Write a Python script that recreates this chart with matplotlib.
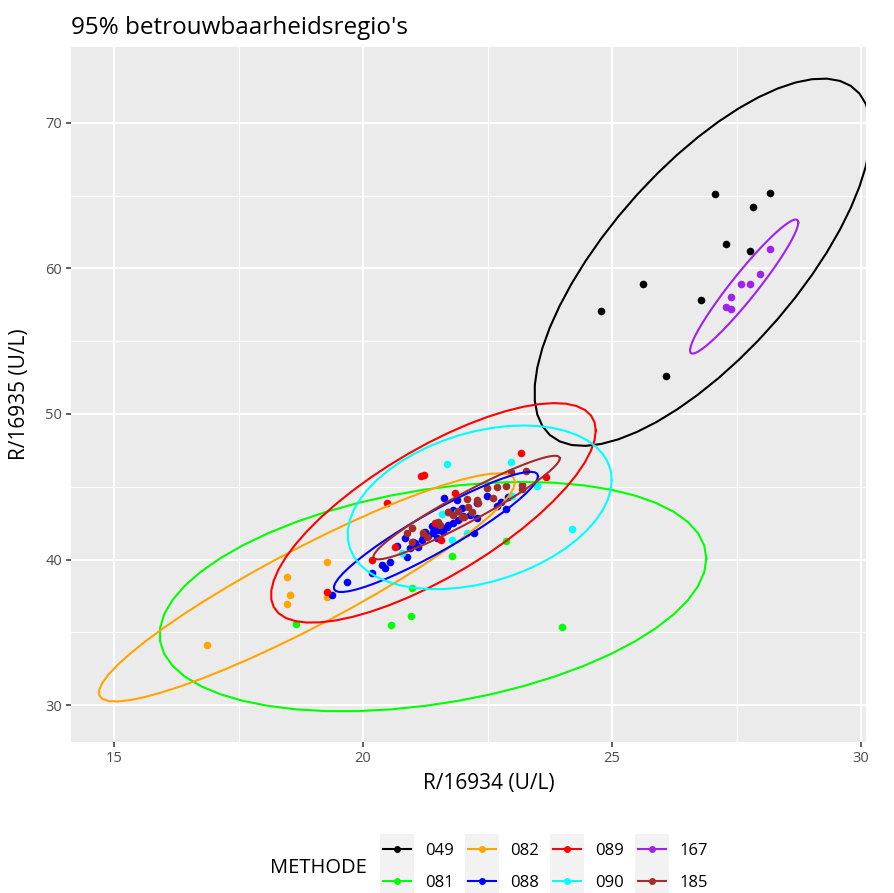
import numpy as np
import matplotlib
matplotlib.use("Agg")
import matplotlib.pyplot as plt
from matplotlib.lines import Line2D
from matplotlib.patches import Rectangle

plt.rcParams['font.family'] = ['Open Sans', 'DejaVu Sans']

methods = ["049", "081", "082", "088", "089", "090", "167", "185"]
colors = ["#000000", "#00FF00", "#FFA500", "#0000FF", "#FF0000", "#00FFFF", "#A020F0", "#A52A2A"]

x049 = [27.07, 28.17, 27.83, 27.28, 27.78, 25.62, 24.77, 26.78, 26.08]
y049 = [65.14, 65.17, 64.23, 61.70, 61.20, 58.93, 57.10, 57.81, 52.59]

x081 = [18.66, 20.57, 20.97, 20.98, 21.79, 22.87, 23.99]
y081 = [35.60, 35.47, 36.12, 38.06, 40.26, 41.27, 35.38]

x082 = [19.28, 18.48, 18.53, 18.48, 19.28, 16.87, 21.20]
y082 = [39.85, 38.78, 37.56, 36.94, 37.44, 34.12, 41.90]

x088 = [19.38, 19.68, 20.19, 20.38, 20.44, 20.54, 20.68, 20.84, 20.88, 20.94, 21.04,
        21.11, 21.18, 21.25, 21.38, 21.41, 21.48, 21.61, 21.68, 21.63, 21.81, 21.98,
        21.88, 22.15, 22.28, 22.28, 22.23, 22.48, 22.69, 22.78, 22.92, 22.88,
        21.00, 21.20, 21.30, 21.50, 21.60, 21.70, 21.90, 22.00, 21.40, 21.80]
y088 = [37.54, 38.45, 39.05, 39.62, 39.39, 39.85, 40.93, 41.46, 40.19, 40.77, 41.11,
        40.88, 41.34, 41.90, 42.30, 41.80, 41.46, 41.90, 42.21, 44.21, 43.40, 43.52,
        44.09, 43.06, 43.86, 42.83, 41.80, 44.36, 43.68, 43.98, 44.27, 43.45,
        41.20, 41.50, 41.60, 42.00, 42.20, 42.40, 42.70, 43.00, 41.90, 42.50]

x089 = [19.28, 20.19, 20.64, 20.48, 21.16, 21.22, 21.45, 21.57, 21.85, 23.17, 23.67,
        21.71, 21.98]
y089 = [37.77, 39.96, 40.88, 43.90, 45.76, 45.80, 42.50, 41.34, 44.55, 47.30, 45.67,
        43.29, 42.95]

x090 = [20.78, 21.58, 21.68, 21.78, 21.88, 22.08, 22.98, 23.00, 23.49, 24.20, 22.18, 22.48]
y090 = [40.43, 43.13, 46.56, 41.34, 43.29, 41.84, 46.70, 44.39, 45.07, 42.10, 43.29, 44.89]

x167 = [28.18, 27.98, 27.58, 27.78, 27.38, 27.28, 27.39]
y167 = [61.32, 59.62, 58.91, 58.91, 58.02, 57.33, 57.19]

x185 = [20.88, 20.98, 20.98, 21.21, 21.28, 21.55, 21.71, 21.81, 21.98, 22.08, 22.18,
        22.28, 22.48, 22.69, 22.88, 22.98, 23.27, 23.19, 23.19, 22.02,
        21.50, 21.90, 22.30, 22.60, 22.10]
y185 = [41.84, 42.14, 41.23, 41.80, 41.57, 42.37, 43.29, 43.06, 42.95, 44.15, 43.29,
        44.09, 44.89, 44.96, 45.05, 46.03, 46.10, 45.12, 44.82, 42.90,
        42.60, 43.30, 43.90, 44.20, 43.60]

xs = [x049, x081, x082, x088, x089, x090, x167, x185]
ys = [y049, y081, y082, y088, y089, y090, y167, y185]

x_ticks = [15, 20, 25, 30]
y_ticks = [30, 40, 50, 60, 70]
level = 0.95


def ellipse_pts(x, y, level=0.95, segments=51):
    X = np.column_stack([x, y])
    n = len(x)
    center = X.mean(axis=0)
    shape = np.cov(X, rowvar=False)
    m = n - 1
    fq = m / 2.0 * ((1 - level) ** (-2.0 / m) - 1)  # qf(level, 2, m)
    radius = np.sqrt(2 * fq)
    R = np.linalg.cholesky(shape).T
    ang = np.arange(segments + 1) * 2 * np.pi / segments
    circ = np.column_stack([np.cos(ang), np.sin(ang)])
    e = center + radius * (circ @ R)
    return e[:, 0], e[:, 1]


W, H = 894, 893
fig = plt.figure(figsize=(W / 100, H / 100), dpi=100)
L, Rr, T, B = 71, 866, 47, 742
ax = fig.add_axes([L / W, 1 - B / H, (Rr - L) / W, (B - T) / H])
ax.set_facecolor("#EBEBEB")
for s in ax.spines.values():
    s.set_visible(False)

ax.set_xlim(14.136, 30.1)
ax.set_ylim(27.46, 75.22)
ax.set_xticks(x_ticks)
ax.set_yticks(y_ticks)
ax.set_xticks([17.5, 22.5, 27.5], minor=True)
ax.set_yticks([35, 45, 55, 65], minor=True)
ax.grid(which="major", color="white", linewidth=1.5)
ax.grid(which="minor", color="white", linewidth=0.75)
ax.set_axisbelow(True)
ax.tick_params(which="major", length=3.5, width=1.1, color="#333333", labelcolor="#4D4D4D",
               labelsize=10.5, pad=3)
ax.tick_params(which="minor", length=0)

for x, y, c in zip(xs, ys, colors):
    ax.scatter(x, y, s=30, color=c, linewidths=0, zorder=3)
for x, y, c in zip(xs, ys, colors):
    ex, ey = ellipse_pts(np.array(x), np.array(y), level)
    ax.plot(ex, ey, color=c, linewidth=1.5, zorder=4)

ax.set_xlabel("R/16934 (U/L)", fontsize=15, color="black")
ax.xaxis.set_label_coords((489 - L) / (Rr - L), -(783 - B) / (B - T))
ax.xaxis.label.set_va("center")
ax.set_ylabel("R/16935 (U/L)", fontsize=15, color="black")
ax.yaxis.set_label_coords(-(L - 20) / (Rr - L), 0.5)
ax.yaxis.label.set_va("center")
fig.text(L / W, 1 - 28 / H, "95% betrouwbaarheidsregio's", fontsize=17.5, va="center", ha="left")

# legend
fig.text(270 / W, 1 - 868 / H, "METHODE", fontsize=14.5, va="center", ha="left")
for i, (lab, c) in enumerate(zip(methods, colors)):
    col, row = i // 2, i % 2
    x0 = 380 + col * 85
    y0 = 834 + row * 32
    fig.add_artist(Rectangle((x0 / W, 1 - (y0 + 32) / H), 34 / W, 32 / H,
                             transform=fig.transFigure, facecolor="#F2F2F2", edgecolor="none"))
    yc = 1 - (y0 + 15) / H
    fig.add_artist(Line2D([(x0 + 3) / W, (x0 + 31) / W], [yc, yc], transform=fig.transFigure,
                          color=c, linewidth=1.5))
    fig.add_artist(Line2D([(x0 + 17) / W], [yc], transform=fig.transFigure, color=c,
                          marker="o", markersize=5, markeredgewidth=0, linestyle="none"))
    fig.text((x0 + 45) / W, 1 - (y0 + 17) / H, lab, fontsize=12, va="center", ha="left")

fig.savefig("out.png", dpi=100)
